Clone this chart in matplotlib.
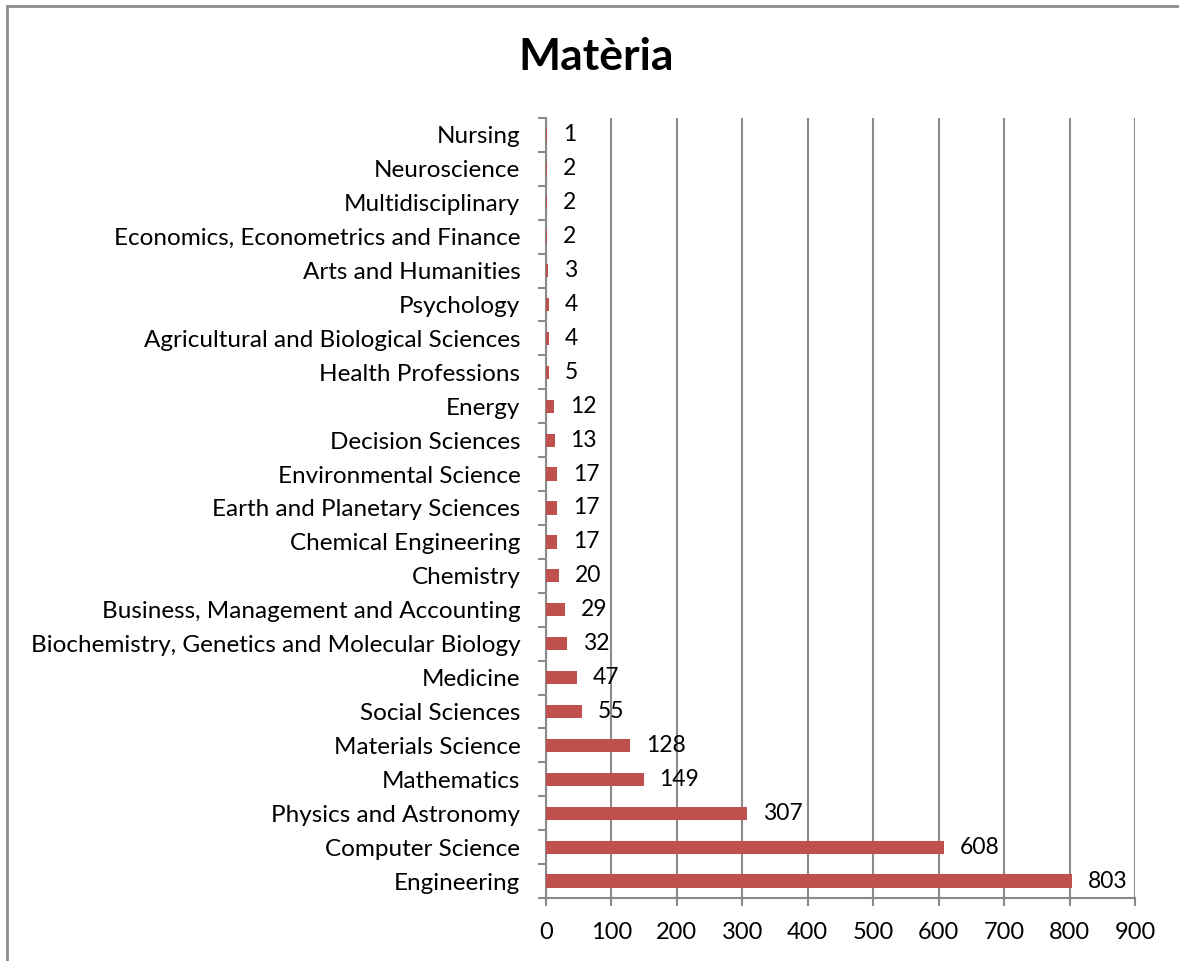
import numpy as np
import matplotlib.pyplot as plt
from matplotlib.patches import Rectangle

# dades (de baix a dalt)
categories = [
    "Engineering", "Computer Science", "Physics and Astronomy", "Mathematics",
    "Materials Science", "Social Sciences", "Medicine",
    "Biochemistry, Genetics and Molecular Biology",
    "Business, Management and Accounting", "Chemistry", "Chemical Engineering",
    "Earth and Planetary Sciences", "Environmental Science", "Decision Sciences",
    "Energy", "Health Professions", "Agricultural and Biological Sciences",
    "Psychology", "Arts and Humanities", "Economics, Econometrics and Finance",
    "Multidisciplinary", "Neuroscience", "Nursing",
]
values = [803, 608, 307, 149, 128, 55, 47, 32, 29, 20, 17, 17, 17, 13, 12,
          5, 4, 4, 3, 2, 2, 2, 1]
xticks = np.arange(0, 1000, 100)

plt.rcParams["font.family"] = ["Lato", "DejaVu Sans"]
BAR = "#C0504D"
GRID = "#8a8a8a"

fig = plt.figure(figsize=(11.79, 9.61), dpi=100)
ax = fig.add_axes([546 / 1179, 1 - 898 / 961, (1135 - 546) / 1179, (898 - 118) / 961])

y = np.arange(len(categories))
ax.barh(y, values, height=0.39, color=BAR, zorder=3)
for yi, v in zip(y, values):
    ax.annotate(str(v), (v, yi), xytext=(11.5, 0), textcoords="offset points",
                ha="left", va="center", fontsize=16.5, color="black")

ax.set_xlim(0, 900)
ax.set_ylim(-0.5, len(categories) - 0.5)
ax.set_xticks(xticks)
ax.set_xticklabels([str(t) for t in xticks], fontsize=17)
ax.set_yticks(y)
ax.set_yticklabels(categories, fontsize=17.5)
ax.set_yticks(np.arange(-0.5, len(categories), 1), minor=True)
ax.tick_params(axis="y", which="major", length=0, pad=18.5)
ax.tick_params(axis="y", which="minor", length=6, color=GRID, width=1.5, direction="out")
ax.tick_params(axis="x", length=6, color=GRID, width=1.5, direction="out", pad=11)

ax.grid(axis="x", color=GRID, lw=1.5, zorder=0)
ax.set_axisbelow(True)
for s in ["top", "right"]:
    ax.spines[s].set_visible(False)
for s in ["left", "bottom"]:
    ax.spines[s].set_color(GRID)
    ax.spines[s].set_linewidth(1.5)

fig.text(596 / 1179, 1 - 57 / 961, "Matèria", ha="center", va="center",
         fontsize=32, fontweight="bold")

# marc del gràfic
fig.patches.append(Rectangle((6.5 / 1179, -0.1), 1.2, 1.1 - 6 / 961,
                             transform=fig.transFigure, fill=False,
                             edgecolor="#8c8c8c", lw=2, clip_on=False))

fig.savefig("out.png", dpi=100)
